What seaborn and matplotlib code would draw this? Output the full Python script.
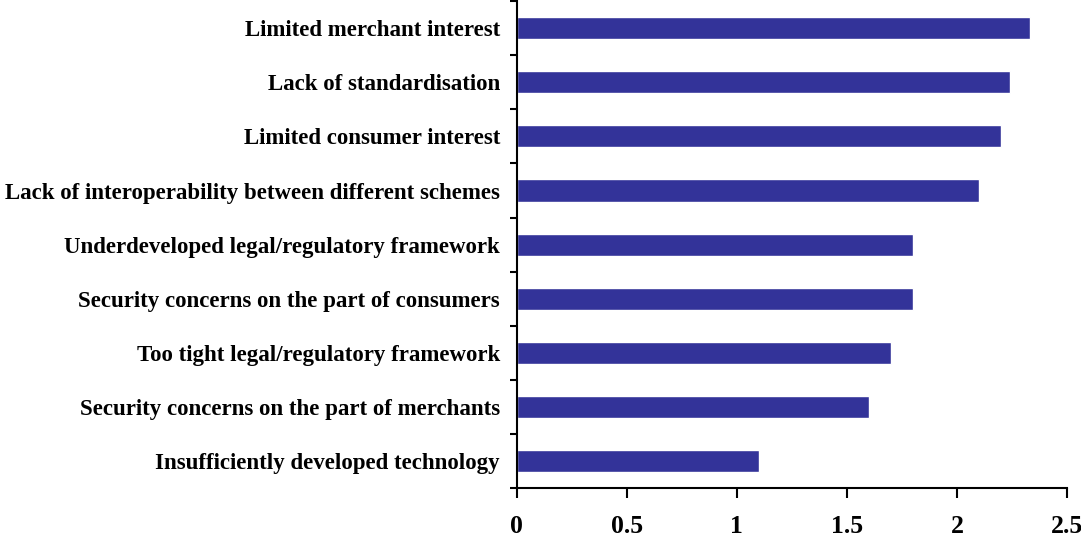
import numpy as np
import matplotlib
matplotlib.use('Agg')
import matplotlib.pyplot as plt
import seaborn as sns

categories = [
    'Limited merchant interest',
    'Lack of standardisation',
    'Limited consumer interest',
    'Lack of interoperability between different schemes',
    'Underdeveloped legal/regulatory framework',
    'Security concerns on the part of consumers',
    'Too tight legal/regulatory framework',
    'Security concerns on the part of merchants',
    'Insufficiently developed technology',
]
scores = [2.33, 2.24, 2.2, 2.1, 1.8, 1.8, 1.7, 1.6, 1.1]
x_ticks = [0, 0.5, 1, 1.5, 2, 2.5]

sns.set_style('white')
plt.rcParams['font.family'] = ['Liberation Serif', 'DejaVu Serif']
plt.rcParams['font.weight'] = 'bold'
plt.rcParams['text.color'] = 'black'
plt.rcParams['xtick.color'] = 'black'
plt.rcParams['ytick.color'] = 'black'

fig = plt.figure(figsize=(10.81, 5.4), dpi=100)
ax = fig.add_axes([0.478, 0.096, 0.509, 0.902])

sns.barplot(x=scores, y=categories, color='#333399', saturation=1,
            width=0.41, orient='h', ax=ax)

ax.set_xlim(0, 2.5)
ax.set_ylim(len(categories) - 0.5, -0.5)
ax.set_xticks(x_ticks)
ax.set_xticklabels(['0', '0.5', '1', '1.5', '2', '2.5'], fontsize=18.5, fontweight='bold')
ax.set_yticks(range(len(categories)))
ax.set_yticklabels(categories, fontsize=16.5, fontweight='bold')
ax.set_yticks(np.arange(-0.5, len(categories), 1), minor=True)

ax.tick_params(axis='y', which='major', length=0, pad=12)
ax.tick_params(axis='y', which='minor', left=True, length=5, width=1.5, color='black')
ax.tick_params(axis='x', which='major', bottom=True, length=7, width=1.5, pad=12, color='black')

for side in ['top', 'right']:
    ax.spines[side].set_visible(False)
for side in ['left', 'bottom']:
    ax.spines[side].set_color('black')
    ax.spines[side].set_linewidth(1.5)

ax.set_xlabel('')
ax.set_ylabel('')

fig.savefig('out.png', dpi=100)
